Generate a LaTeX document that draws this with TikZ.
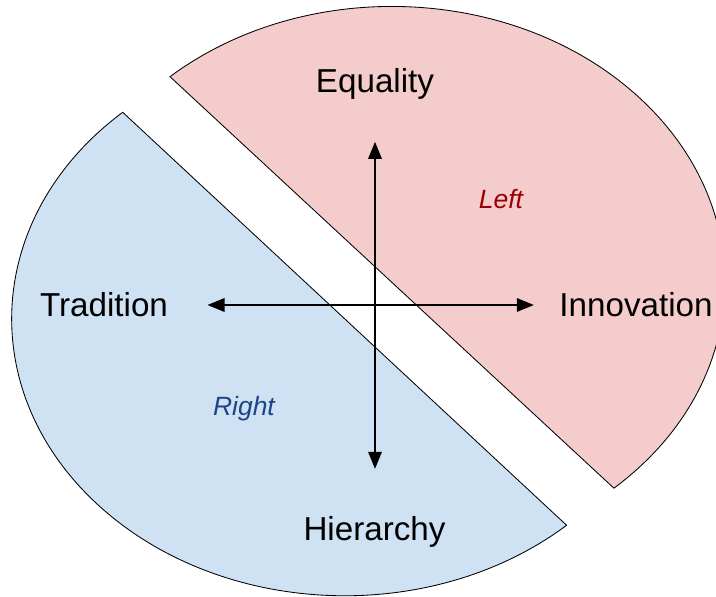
\documentclass[tikz,border=0pt]{standalone}
\usepackage{fontspec}
\setmainfont{Liberation Sans}
\usetikzlibrary{arrows.meta}
\definecolor{leftfill}{HTML}{F4CCCC}
\definecolor{rightfill}{HTML}{CFE2F3}
\definecolor{lefttext}{HTML}{990000}
\definecolor{righttext}{HTML}{1C4587}
\begin{document}
\begin{tikzpicture}[x=0.025cm, y=0.025cm]
	\tikzstyle{every node} = [inner sep=0pt, anchor=base, font=\fontsize{23.6}{28}\selectfont]
	\tikzstyle{side} = [font=\fontsize{18.8}{22}\selectfont\itshape]
	\tikzstyle{half} = [draw=black, line width=0.6pt, line join=miter]
	\tikzstyle{axis} = [line width=1.9pt, {Triangle[length=4.3mm,width=3.3mm]}-{Triangle[length=4.3mm,width=3.3mm]}]
	\clip (0,0) rectangle (716,597);
	% the two halves
	\draw [half, fill=leftfill] (170,520.3) arc [start angle=131.8, end angle=-48.2, x radius=333, y radius=276] -- cycle;
	\draw [half, fill=rightfill] (122.7,484.7) arc [start angle=131.8, end angle=311.8, x radius=333, y radius=277] -- cycle;
	% labels
	\node (equality) at (375, 504) {Equality};
	\node (tradition) at (104, 280) {Tradition};
	\node (innovation) at (636, 280) {Innovation};
	\node (hierarchy) at (374.5, 56.3) {Hierarchy};
	\node [side, text=lefttext] (left) at (501, 388) {Left};
	\node [side, text=righttext] (right) at (244, 181) {Right};
	% arrow ends
	\coordinate (up) at (375, 455.3);
	\coordinate (down) at (375, 128);
	\coordinate (west) at (207.3, 292);
	\coordinate (east) at (534, 292);
	\draw [axis] (down)--(up);
	\draw [axis] (west)--(east);
\end{tikzpicture}
\end{document}
